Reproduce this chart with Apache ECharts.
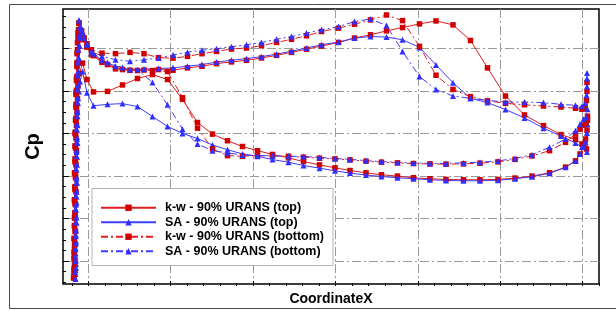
<!DOCTYPE html>
<html>
<head>
<meta charset="utf-8">
<title>Cp</title>
<script src="https://cdn.jsdelivr.net/npm/echarts/dist/echarts.min.js"></script>
<style>
    html, body { margin: 0; padding: 0; background: #fff; }
    #main { width: 616px; height: 311px; }
</style>
</head>
<body>
<div id="main"></div>
<script>
// chord stations, upper branch (LE -> TE)
var xUpper = [0.010, 0.015, 0.020, 0.026, 0.035, 0.056, 0.083, 0.112, 0.140, 0.169,
    0.198, 0.227, 0.256, 0.285, 0.315, 0.345, 0.375, 0.405, 0.435, 0.465,
    0.495, 0.529, 0.561, 0.593, 0.625, 0.657, 0.691, 0.724, 0.758, 0.793,
    0.827, 0.863, 0.901, 0.939, 0.974, 1.003, 1.016];
// chord stations, lower branch (LE -> TE)
var xLower = [0.017, 0.026, 0.039, 0.067, 0.097, 0.127, 0.157, 0.187, 0.217, 0.247,
    0.277, 0.307, 0.337, 0.367, 0.397, 0.429, 0.459, 0.491, 0.522, 0.552,
    0.584, 0.615, 0.647, 0.679, 0.712, 0.744, 0.779, 0.812, 0.848, 0.882,
    0.916, 0.951, 0.983, 1.003, 1.012, 1.019];

// k-w (top)
var kwTopUp = [-1.575, -1.50, -1.41, -1.337, -1.26, -1.183, -1.117, -1.103, -1.105, -1.11,
    -1.103, -1.127, -1.143, -1.17, -1.187, -1.203, -1.227, -1.253, -1.283, -1.315,
    -1.347, -1.383, -1.427, -1.46, -1.50, -1.533, -1.57, -1.60, -1.56, -1.403,
    -1.127, -0.843, -0.653, -0.545, -0.455, -0.405, -0.36];
var kwTopLow = [-1.175, -1.01, -0.885, -0.89, -0.955, -1.02, -1.06, -1.01, -0.81, -0.577,
    -0.46, -0.393, -0.335, -0.293, -0.255, -0.22, -0.183, -0.15, -0.12, -0.093,
    -0.07, -0.05, -0.037, -0.02, -0.01, -0.003, 0, 0, -0.003, -0.017,
    -0.037, -0.07, -0.127, -0.19, -0.26, -0.34];
var kwTopLE = [[0.011,-1.07],[0.008,-0.95],[0.007,-0.82],[0.006,-0.68],[0.005,-0.55],[0.004,-0.42],[0.005,-0.29],[0.004,-0.15],[0.003,-0.02],[0.004,0.12],[0.003,0.25],[0.002,0.39],[0.003,0.52],[0.002,0.65],[0.001,0.78],[0.001,0.89],[0,0.98],[0.001,0.93],[0.002,0.83],[0.001,0.71],[0,0.59],[0.001,0.46],[0.002,0.33],[0.001,0.20],[0.002,0.07],[0.001,-0.07],[0.002,-0.21],[0.003,-0.34],[0.002,-0.47],[0.003,-0.60],[0.004,-0.73],[0.004,-0.86],[0.005,-1.00],[0.006,-1.14],[0.006,-1.27],[0.007,-1.38],[0.008,-1.48]];
var kwTopTE = [[1.023,-0.41],[1.026,-0.50],[1.027,-0.60],[1.025,-0.31]];

// SA (top)
var saTopUp = [-1.603, -1.51, -1.425, -1.36, -1.283, -1.203, -1.143, -1.11, -1.115, -1.12,
    -1.127, -1.143, -1.16, -1.185, -1.203, -1.22, -1.24, -1.265, -1.295, -1.327,
    -1.36, -1.387, -1.427, -1.443, -1.437, -1.41, -1.333, -1.157, -0.977, -0.82,
    -0.777, -0.707, -0.623, -0.52, -0.44, -0.37, -0.33];
var saTopLow = [-1.09, -0.877, -0.745, -0.76, -0.767, -0.737, -0.637, -0.537, -0.467, -0.415,
    -0.35, -0.303, -0.26, -0.237, -0.203, -0.177, -0.143, -0.117, -0.09, -0.067,
    -0.047, -0.033, -0.02, -0.01, 0, 0.007, 0.01, 0.01, 0.005, -0.01,
    -0.03, -0.065, -0.125, -0.19, -0.26, -0.34];
var saTopLE = [[0.012,-0.99],[0.010,-0.89],[0.008,-0.77],[0.007,-0.64],[0.006,-0.50],[0.007,-0.37],[0.006,-0.23],[0.005,-0.10],[0.006,0.03],[0.005,0.17],[0.004,0.30],[0.005,0.43],[0.004,0.56],[0.003,0.69],[0.004,0.81],[0.003,0.91],[0.002,0.99],[0.003,0.95],[0.004,0.85],[0.003,0.74],[0.004,0.62],[0.003,0.49],[0.004,0.36],[0.005,0.23],[0.004,0.10],[0.005,-0.03],[0.004,-0.17],[0.005,-0.30],[0.006,-0.43],[0.005,-0.56],[0.006,-0.69],[0.007,-0.82],[0.008,-0.95],[0.008,-1.09],[0.009,-1.23],[0.010,-1.35],[0.011,-1.46]];
var saTopTE = [[1.023,-0.38],[1.026,-0.47],[1.027,-0.56],[1.026,-0.28]];

// k-w (bottom)
var kwBotUp = [-1.58, -1.50, -1.43, -1.37, -1.31, -1.275, -1.27, -1.283, -1.27, -1.23,
    -1.225, -1.243, -1.27, -1.293, -1.317, -1.327, -1.35, -1.383, -1.415, -1.45,
    -1.493, -1.527, -1.567, -1.61, -1.66, -1.603, -1.343, -1.053, -0.91, -0.837,
    -0.795, -0.77, -0.755, -0.743, -0.733, -0.72, -0.71];
var kwBotLow = [-1.45, -1.34, -1.25, -1.16, -1.11, -1.10, -1.10, -1.09, -0.827, -0.52,
    -0.31, -0.243, -0.237, -0.243, -0.24, -0.237, -0.227, -0.217, -0.21, -0.20,
    -0.187, -0.177, -0.17, -0.163, -0.16, -0.157, -0.16, -0.167, -0.18, -0.205,
    -0.24, -0.293, -0.377, -0.46, -0.51, -0.55];
var kwBotLE = [[0.012,-1.51],[0.009,-1.41],[0.007,-1.29],[0.006,-1.16],[0.005,-1.02],[0.004,-0.88],[0.005,-0.74],[0.004,-0.60],[0.003,-0.46],[0.003,-0.32],[0.002,-0.18],[0.003,-0.04],[0.002,0.10],[0.002,0.24],[0.001,0.38],[0.002,0.52],[0.001,0.66],[0,0.79],[0,0.90],[-0.001,0.99],[0,0.95],[0.001,0.85],[0,0.73],[0.001,0.60],[0.001,0.47],[0.002,0.34],[0.001,0.21],[0.002,0.08],[0.002,-0.06],[0.003,-0.20],[0.002,-0.34],[0.003,-0.48],[0.004,-0.62],[0.004,-0.76],[0.005,-0.90],[0.006,-1.04],[0.006,-1.18],[0.007,-1.31],[0.008,-1.43],[0.009,-1.51]];
var kwBotTE = [[1.022,-0.72],[1.025,-0.80],[1.026,-0.89],[1.026,-0.98],[1.027,-0.64],[1.024,-0.57]];

// SA (bottom)
var saBotUp = [-1.603, -1.51, -1.43, -1.36, -1.295, -1.245, -1.21, -1.193, -1.208, -1.227,
    -1.257, -1.285, -1.305, -1.32, -1.34, -1.36, -1.383, -1.415, -1.443, -1.477,
    -1.51, -1.543, -1.593, -1.62, -1.553, -1.293, -1.04, -0.91, -0.843, -0.82,
    -0.80, -0.783, -0.783, -0.777, -0.76, -0.75, -0.743];
var saBotLow = [-1.48, -1.37, -1.27, -1.18, -1.13, -1.11, -0.98, -0.755, -0.51, -0.36,
    -0.293, -0.27, -0.25, -0.243, -0.243, -0.237, -0.235, -0.225, -0.215, -0.205,
    -0.193, -0.183, -0.175, -0.17, -0.165, -0.165, -0.17, -0.177, -0.19, -0.215,
    -0.253, -0.327, -0.41, -0.493, -0.56, -0.61];
var saBotLE = [[0.013,-1.54],[0.011,-1.43],[0.009,-1.31],[0.008,-1.18],[0.007,-1.05],[0.006,-0.91],[0.007,-0.78],[0.006,-0.64],[0.005,-0.51],[0.006,-0.37],[0.005,-0.24],[0.004,-0.11],[0.005,0.03],[0.004,0.16],[0.003,0.30],[0.004,0.43],[0.003,0.57],[0.003,0.70],[0.002,0.82],[0.002,0.93],[0.003,1.00],[0.004,0.89],[0.003,0.77],[0.004,0.64],[0.004,0.51],[0.005,0.38],[0.004,0.25],[0.005,0.12],[0.005,-0.01],[0.006,-0.15],[0.005,-0.28],[0.006,-0.41],[0.007,-0.55],[0.007,-0.68],[0.008,-0.82],[0.008,-0.95],[0.009,-1.09],[0.010,-1.22],[0.011,-1.35],[0.012,-1.46],[0.012,-1.53]];
var saBotTE = [[1.022,-0.77],[1.025,-0.85],[1.026,-0.94],[1.026,-1.02],[1.026,-1.075],[1.027,-0.71],[1.024,-0.63]];

var seriesNames = ['k-w - 90% URANS (top)', 'SA - 90% URANS (top)', 'k-w - 90% URANS (bottom)', 'SA - 90% URANS (bottom)'];

// walk round the section: lower TE->LE, nose, upper LE->TE, base
function loop(low, le, up, te) {
    var res = [];
    for (var i = xLower.length - 1; i >= 0; i--) res.push([xLower[i], low[i]]);
    res = res.concat(le);
    for (var j = 0; j < xUpper.length; j++) res.push([xUpper[j], up[j]]);
    return res.concat(te);
}

var RED = '#e01c1c', BLUE = '#3d3dff';
var DASHDOT = [7, 3, 2, 3];
var FONT = '"Liberation Sans", Arial, sans-serif';

function mkSeries(name, data, color, mark, size, dash) {
    return {
        name: name,
        type: 'line',
        xAxisIndex: 0,
        yAxisIndex: 0,
        data: data,
        symbol: mark,
        symbolSize: size,
        showAllSymbol: true,
        clip: false,
        animation: false,
        lineStyle: { color: color, width: 1, type: dash ? DASHDOT : 'solid' },
        itemStyle: { color: mark == 'rect' ? '#d00000' : '#2f2fff' }
    };
}

var gridLine = { show: true, lineStyle: { color: '#9a9a9a', width: 1, type: [9, 3, 2, 3] } };
var off = { show: false };

var myChart = echarts.init(document.getElementById('main'));
var option = {
    backgroundColor: '#fff',
    animation: false,
    textStyle: { fontFamily: FONT },
    // outer page frame, open on the right
    graphic: [{
        type: 'polyline',
        shape: { points: [[640, 4.5], [9.5, 4.5], [9.5, 308.5], [640, 308.5]] },
        style: { fill: null, stroke: '#4a4a4a', lineWidth: 1 },
        z: -1
    }],
    grid: [
        // data + frame
        { left: 63, right: 17, top: 9, bottom: 25, show: true, borderColor: '#000', borderWidth: 1.5, backgroundColor: 'transparent' },
        // major x grid lines
        { left: 88.3, right: 33.3, top: 9, bottom: 25 },
        // major y grid lines
        { left: 63, right: 17, top: 48.3, bottom: 50 },
        // minor x ticks
        { left: 71.8, right: 16.8, top: 9, bottom: 25 },
        // minor y ticks
        { left: 63, right: 17, top: 16.4, bottom: 28.7 }
    ],
    xAxis: [
        { gridIndex: 0, type: 'value', min: -0.022, max: 1.05,
          axisLine: off, axisTick: off, axisLabel: off, splitLine: off,
          name: 'CoordinateX', nameLocation: 'middle', nameGap: 8,
          nameTextStyle: { color: '#000', fontWeight: 'bold', fontSize: 14, fontFamily: FONT } },
        { gridIndex: 1, type: 'value', min: 0, max: 6, interval: 1,
          axisLine: off, axisLabel: off, splitLine: gridLine,
          axisTick: { show: true, inside: true, length: 5, lineStyle: { color: '#000' } } },
        { gridIndex: 2, type: 'value', show: false, min: 0, max: 1 },
        { gridIndex: 3, type: 'value', min: 0, max: 32, interval: 1,
          axisLine: off, axisLabel: off, splitLine: off,
          axisTick: { show: true, inside: true, length: 3, lineStyle: { color: '#000' } } },
        { gridIndex: 4, type: 'value', show: false, min: 0, max: 1 }
    ],
    yAxis: [
        { gridIndex: 0, type: 'value', min: -1.72, max: 1.05, inverse: true,
          axisLine: off, axisTick: off, axisLabel: off, splitLine: off,
          name: 'Cp', nameLocation: 'middle', nameGap: 20, nameRotate: 90,
          nameTextStyle: { color: '#000', fontWeight: 'bold', fontSize: 20, fontFamily: FONT } },
        { gridIndex: 1, type: 'value', show: false, min: 0, max: 1 },
        { gridIndex: 2, type: 'value', min: 0, max: 5, interval: 1,
          axisLine: off, axisLabel: off, splitLine: gridLine,
          axisTick: { show: true, inside: true, length: 6, lineStyle: { color: '#000' } } },
        { gridIndex: 3, type: 'value', show: false, min: 0, max: 1 },
        { gridIndex: 4, type: 'value', min: 0, max: 25, interval: 1,
          axisLine: off, axisLabel: off, splitLine: off,
          axisTick: { show: true, inside: true, length: 3, lineStyle: { color: '#000' } } }
    ],
    legend: {
        orient: 'vertical',
        left: 92,
        top: 188.5,
        padding: [12, 9, 7, 8],
        backgroundColor: '#fff',
        borderColor: '#b4b4b4',
        borderWidth: 1,
        borderRadius: 0,
        itemWidth: 55,
        itemHeight: 8,
        itemGap: 0,
        data: seriesNames,
        textStyle: { color: '#000', fontWeight: 'bold', fontSize: 12.5, lineHeight: 14.5, fontFamily: FONT, padding: [0, 0, 0, 4] }
    },
    series: [
        mkSeries(seriesNames[0], loop(kwTopLow, kwTopLE, kwTopUp, kwTopTE), RED, 'rect', 5.5, false),
        mkSeries(seriesNames[1], loop(saTopLow, saTopLE, saTopUp, saTopTE), BLUE, 'triangle', 6, false),
        mkSeries(seriesNames[2], loop(kwBotLow, kwBotLE, kwBotUp, kwBotTE), RED, 'rect', 5.5, true),
        mkSeries(seriesNames[3], loop(saBotLow, saBotLE, saBotUp, saBotTE), BLUE, 'triangle', 6, true)
    ]
};
myChart.setOption(option);

window.addEventListener("resize", function () {
    myChart.resize();
});
</script>
</body>
</html>
